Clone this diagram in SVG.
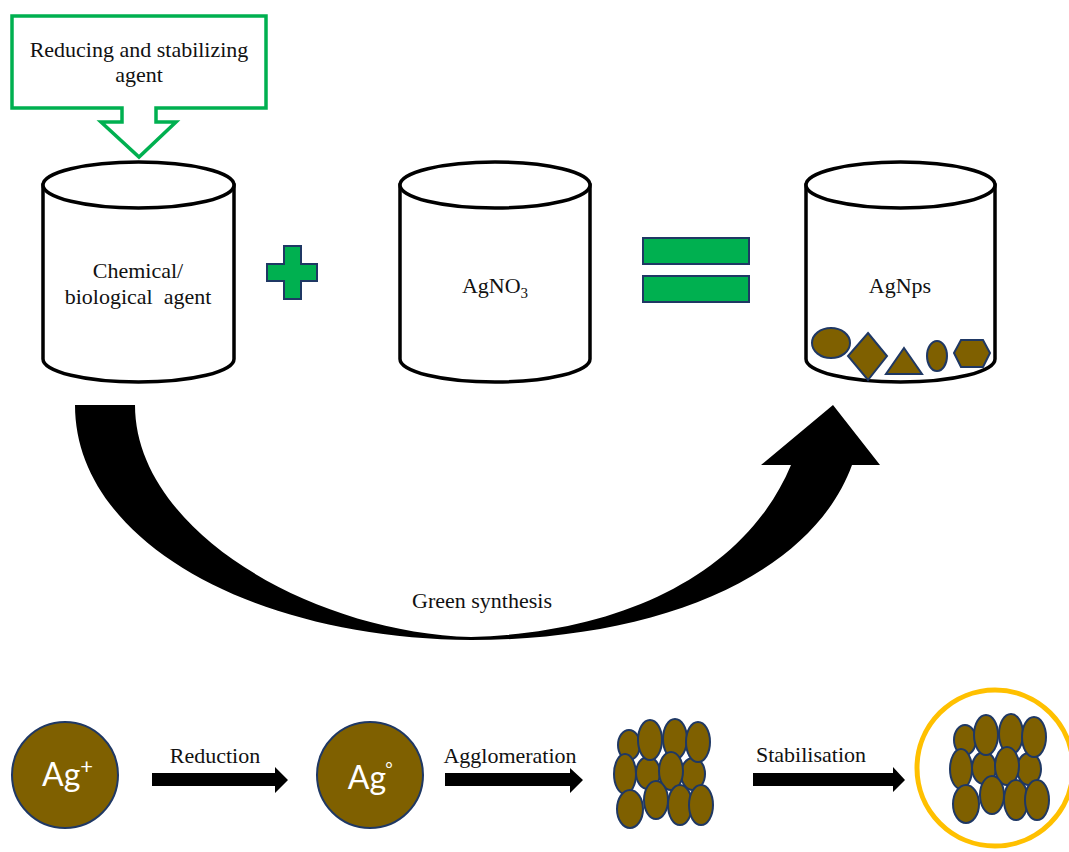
<svg xmlns="http://www.w3.org/2000/svg" xmlns:xlink="http://www.w3.org/1999/xlink" width="1069" height="852" viewBox="0 0 1069 852">
<style>
.serif{font-family:"Liberation Serif","Times New Roman",serif;font-size:22px;fill:#111;}
.cyl{fill:#fff;stroke:#000;stroke-width:3.5;}
.green{fill:#00B050;stroke:#1F3864;stroke-width:2;}
.np{fill:#7F6000;stroke:#1F3864;stroke-width:2;}
.ag{font-family:Lato,"Open Sans",sans-serif;fill:#fff;}
.arr{fill:#000;}
</style>
<defs>
<g id="cluster">
<ellipse class="np" cx="629" cy="745" rx="11" ry="15"/>
<ellipse class="np" cx="648" cy="773" rx="12" ry="16"/>
<ellipse class="np" cx="693" cy="774" rx="12" ry="16"/>
<ellipse class="np" cx="650" cy="740" rx="12" ry="20"/>
<ellipse class="np" cx="675" cy="739" rx="12" ry="20"/>
<ellipse class="np" cx="698" cy="742" rx="12" ry="20"/>
<ellipse class="np" cx="625" cy="774" rx="11" ry="20"/>
<ellipse class="np" cx="671" cy="771" rx="12" ry="19"/>
<ellipse class="np" cx="630" cy="809" rx="13" ry="19"/>
<ellipse class="np" cx="656" cy="800" rx="12" ry="19"/>
<ellipse class="np" cx="680" cy="805" rx="12" ry="20"/>
<ellipse class="np" cx="701" cy="805" rx="12" ry="20"/>
</g>
</defs>
<rect width="1069" height="852" fill="#fff"/>

<g id="callout">
<path d="M12,16 H266 V108 H156 V122 H176 L139,157 L101,122 H122 V108 H12 Z" fill="#fff" stroke="#00B050" stroke-width="3.5"/>
<text class="serif" x="139" y="57" text-anchor="middle">Reducing and stabilizing</text>
<text class="serif" x="139" y="82" text-anchor="middle">agent</text>
</g>

<g id="cyl-agent">
<path class="cyl" d="M43,185 L43,359 A95.5,23 0 0 0 234,359 L234,185 Z"/>
<ellipse class="cyl" cx="138.5" cy="185" rx="95.5" ry="23"/>
<text class="serif" x="138" y="278" text-anchor="middle">Chemical/</text>
<text class="serif" x="138" y="304" text-anchor="middle" xml:space="preserve">biological  agent</text>
</g>

<g id="plus">
<path class="green" d="M284,246 H301 V264 H317 V281 H301 V299 H284 V281 H267 V264 H284 Z"/>
</g>

<g id="cyl-agno3">
<path class="cyl" d="M400,185 L400,359 A95,23 0 0 0 590,359 L590,185 Z"/>
<ellipse class="cyl" cx="495" cy="185" rx="95" ry="23"/>
<text class="serif" x="495" y="293" text-anchor="middle">AgNO<tspan font-size="15" dy="5">3</tspan></text>
</g>

<g id="equals">
<rect class="green" x="643" y="238" width="106" height="26"/>
<rect class="green" x="643" y="276" width="106" height="26"/>
</g>

<g id="cyl-agnps">
<path class="cyl" d="M806,185 L806,359 A94.5,23 0 0 0 995,359 L995,185 Z"/>
<ellipse class="cyl" cx="900.5" cy="185" rx="94.5" ry="23"/>
<text class="serif" x="900" y="293" text-anchor="middle">AgNps</text>
<ellipse class="np" cx="831" cy="343" rx="19" ry="15"/>
<polygon class="np" points="868,333 887,356 868,380 848,356"/>
<polygon class="np" points="904,348 922,374 886,374"/>
<ellipse class="np" cx="937" cy="356" rx="10" ry="15"/>
<polygon class="np" points="954,353 961,340 983,340 990,353 983,367 961,367"/>
</g>

<g id="connectors">
<path class="arr" d="M75,405 L135,405 C135,530 310,632 471,637 C620,633 745,575 791,465 L761,465 L833,405 L880,465 L852,465 C812,575 660,640 471,640 C250,638 75,540 75,405 Z"/>
<text class="serif" x="482" y="608" text-anchor="middle">Green synthesis</text>
<path class="arr" d="M152,773 H275 V767 L288,780 L275,793 V786 H152 Z"/>
<text class="serif" x="215" y="763" text-anchor="middle">Reduction</text>
<path class="arr" d="M445,773 H570 V768 L583,780 L570,793 V786 H445 Z"/>
<text class="serif" x="510" y="763" text-anchor="middle">Agglomeration</text>
<path class="arr" d="M753,773 H893 V767 L905,780 L893,792 V786 H753 Z"/>
<text class="serif" x="811" y="762" text-anchor="middle">Stabilisation</text>
</g>

<g id="ag-ion">
<circle class="np" cx="65" cy="775" r="53"/>
<text class="ag" x="42" y="786" font-size="32">Ag<tspan font-size="22" dy="-12">+</tspan></text>
</g>

<g id="ag-atom">
<circle class="np" cx="370" cy="775" r="53"/>
<text class="ag" x="367" y="789" font-size="32" text-anchor="middle">Ag</text>
<text class="ag" x="389" y="775" font-size="18" text-anchor="middle">°</text>
</g>

<g id="agglomerate">
<use xlink:href="#cluster" href="#cluster"/>
</g>

<g id="stabilised">
<circle cx="995" cy="768" r="78" fill="#fff" stroke="#FFC000" stroke-width="5"/>
<use xlink:href="#cluster" href="#cluster" transform="translate(336,-5)"/>
</g>
</svg>
